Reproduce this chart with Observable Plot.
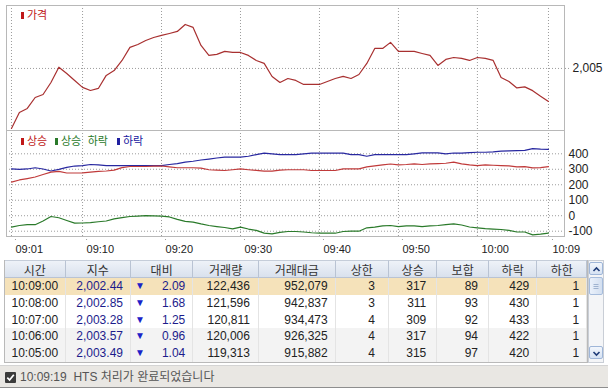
<!DOCTYPE html>
<html><head><meta charset="utf-8">
<script src="https://cdn.jsdelivr.net/npm/d3@7"></script>
<script src="https://cdn.jsdelivr.net/npm/@observablehq/plot@0.6"></script>
<style>
html,body{margin:0;padding:0}
body{width:608px;height:390px;overflow:hidden;background:#fff;position:relative;font-family:"Liberation Sans",Arial,sans-serif}
#chartTop,#chartBottom{position:absolute;left:0}
#chartTop{top:0}
#chartBottom{top:130px}
.lg{position:absolute;font-family:"Noto Sans CJK KR",sans-serif;font-size:11px;line-height:12px;white-space:nowrap}
.lg i{display:inline-block;width:3px;height:7px;margin-right:3px;vertical-align:0px}
.cell{position:absolute;box-sizing:border-box;white-space:nowrap;overflow:hidden;font-size:12px}
.hd{font-family:"Noto Sans CJK KR",sans-serif;text-align:center;color:#333;background:linear-gradient(#eef2f8,#d9e1ed);border-right:1px solid #b9c3d3;border-bottom:1px solid #b9c3d3;border-top:1px solid #c5cdd9}
#status{position:absolute;left:0;top:365px;width:608px;height:23px;background:#e9e7e3;border-top:1px solid #d4d4d4;border-bottom:1px solid #8e8e8e;box-sizing:border-box;font-size:12px;color:#555}
</style></head><body>
<div id="chartTop"></div>
<div id="chartBottom"></div>
<div class="lg" style="left:21px;top:8px;color:#c01818"><i style="background:#c01818"></i>가격</div>
<div class="lg" style="left:21px;top:134px;color:#c01818"><i style="background:#c01818"></i>상승</div>
<div class="lg" style="left:55px;top:134px;color:#2a7a2a;word-spacing:4px"><i style="background:#2a7a2a"></i>상승 하락</div>
<div class="lg" style="left:117px;top:134px;color:#2020a0"><i style="background:#2020a0"></i>하락</div>
<div id="status"></div>
<script>
// ---- chart data (per minute) ----
const times = ["09:01","09:02","09:03","09:04","09:05","09:06","09:07","09:08","09:09","09:10",
"09:11","09:12","09:13","09:14","09:15","09:16","09:17","09:18","09:19","09:20",
"09:21","09:22","09:23","09:24","09:25","09:26","09:27","09:28","09:29","09:30",
"09:31","09:32","09:33","09:34","09:35","09:36","09:37","09:38","09:39","09:40",
"09:41","09:42","09:43","09:44","09:45","09:46","09:47","09:48","09:49","09:50",
"09:51","09:52","09:53","09:54","09:55","09:56","09:57","09:58","09:59","10:00",
"10:01","10:02","10:03","10:04","10:05","10:06","10:07","10:08","10:09"];
const price = [2000.35,2001.59,2001.90,2002.75,2002.98,2003.91,2005.10,2004.61,2004.07,2003.53,
2003.29,2003.45,2004.46,2004.84,2005.62,2006.63,2006.86,2007.17,2007.40,2007.56,
2007.71,2007.87,2008.41,2008.18,2006.78,2006.01,2006.09,2006.32,2006.24,2006.24,
2006.01,2005.62,2005.39,2004.38,2003.91,2004.22,2004.07,2003.76,2003.76,2003.76,
2003.99,2004.22,2004.38,2004.22,2004.53,2005.39,2006.55,2006.55,2007.02,2006.32,
2006.32,2006.32,2006.16,2006.01,2005.23,2005.70,2005.85,2005.78,2005.62,2005.85,
2005.78,2005.62,2004.30,2003.99,2003.49,2003.57,2003.28,2002.85,2002.44];
const advancers = [217,231,240,250,266,282,286,276,276,277,
282,286,289,295,311,318,318,318,321,321,
315,310,310,310,308,297,295,292,297,302,
297,293,288,288,295,297,297,297,292,292,
292,292,303,303,303,315,322,328,334,329,
331,335,331,335,337,339,346,335,328,324,
328,326,324,322,315,317,309,311,317];
const decliners = [303,299,302,310,302,289,299,312,321,324,
331,328,324,324,324,324,324,324,324,324,
331,337,346,352,360,366,373,378,378,378,
384,395,404,399,395,395,395,400,404,404,
404,404,404,395,395,384,395,395,395,395,
395,400,406,406,406,400,405,404,407,410,
410,412,417,419,420,422,433,430,429];
const netBreadth = [-74,-63,-58,-58,-34,-5,-13,-31,-48,-47,
-44,-39,-34,-20,-12,-5,-2,1,-1,-3,
-8,-24,-37,-41,-53,-63,-70,-76,-85,-74,
-86,-95,-112,-117,-108,-102,-102,-105,-110,-113,
-113,-113,-102,-100,-100,-78,-74,-66,-63,-70,
-65,-65,-70,-66,-63,-57,-53,-60,-73,-78,
-83,-86,-89,-95,-105,-105,-124,-119,-112];
const timeTicks = ["09:01","09:10","09:20","09:30","09:40","09:50","10:00","10:09"];
const priceTicks = [2005];
const breadthTicks = [400,300,200,100,0,-100];

// ---- table data ----
const tblHeaders = ["시간","지수","대비","거래량","거래대금","상한","상승","보합","하락","하한"];
const tblTime = ["10:09:00","10:08:00","10:07:00","10:06:00","10:05:00"];
const tblIndex = [2002.44,2002.85,2003.28,2003.57,2003.49];
const tblChange = [2.09,1.68,1.25,0.96,1.04];
const tblVolume = [122436,121596,120811,120006,119313];
const tblAmount = [952079,942837,934473,926325,915882];
const tblUpLimit = [3,3,4,4,4];
const tblUp = [317,311,309,317,315];
const tblFlat = [89,93,92,94,97];
const tblDown = [429,430,433,422,420];
const tblDownLimit = [1,1,1,1,1];
const statusText = "10:09:19  HTS 처리가 완료되었습니다";

(function () {
const toMin = t => { const [h, m] = t.split(":").map(Number); return (h - 9) * 60 + m; };
const rows = times.map((t, i) => ({m: toMin(t), price: price[i], up: advancers[i], down: decliners[i], net: netBreadth[i]}));
const tickPos = timeTicks.map(toMin);
const tickFmt = d => timeTicks[tickPos.indexOf(d)];
const xDomain = [0.37, 71.03];
const dotted = {stroke: "#9c9c9c", strokeDasharray: "1,2"};
const frameColor = "#b8b8b8";
const font = "'Liberation Sans', Arial, sans-serif";

const priceChart = Plot.plot({
  width: 608, height: 131,
  marginLeft: 6, marginRight: 44, marginTop: 5, marginBottom: 1,
  x: {domain: xDomain, axis: null},
  y: {domain: [2000.19, 2009.88], axis: null},
  style: {background: "none", fontFamily: font, fontSize: "12px", color: "#222", overflow: "visible"},
  marks: [
    Plot.ruleX(tickPos, {x: d => d, ...dotted}),
    Plot.ruleY(priceTicks, {y: d => d, ...dotted}),
    Plot.axisY(priceTicks, {anchor: "right", label: null, tickSize: 4, tickPadding: 4, tickFormat: d3.format(","), stroke: "#9c9c9c", strokeDasharray: "1,2", fill: "#222", fontSize: 12}),
    Plot.line(rows, {x: "m", y: "price", stroke: "#a83030", strokeWidth: 1.2}),
    Plot.frame({stroke: frameColor})
  ]
});
document.getElementById("chartTop").append(priceChart);

const breadthChart = Plot.plot({
  width: 608, height: 130,
  marginLeft: 6, marginRight: 44, marginTop: 0, marginBottom: 24,
  x: {domain: xDomain, axis: null},
  y: {domain: [-134.2, 550.5], axis: null},
  style: {background: "none", fontFamily: font, fontSize: "12px", color: "#222", overflow: "visible"},
  marks: [
    Plot.ruleX(tickPos, {x: d => d, ...dotted}),
    Plot.ruleY(breadthTicks, {y: d => d, ...dotted}),
    Plot.axisY(breadthTicks, {anchor: "right", label: null, tickSize: 0, tickPadding: 4, tickFormat: d => String(d), fill: "#222", fontSize: 12}),
    Plot.axisX(tickPos, {anchor: "bottom", label: null, tickSize: 5, tickPadding: 3.5, textAnchor: "start", dx: 4, tickFormat: tickFmt, stroke: "#9c9c9c", strokeDasharray: "1,2", fill: "#222", fontSize: 11}),
    Plot.line(rows, {x: "m", y: "net", stroke: "#2a7a2a", strokeWidth: 1.2}),
    Plot.line(rows, {x: "m", y: "down", stroke: "#2828a0", strokeWidth: 1.2}),
    Plot.line(rows, {x: "m", y: "up", stroke: "#c03a3a", strokeWidth: 1.2}),
    Plot.frame({stroke: frameColor})
  ]
});
document.getElementById("chartBottom").append(breadthChart);

// ---- table ----
const colX = [5, 65.7, 131, 193.3, 259, 335.7, 389, 437.3, 489, 537.3, 587.3];
const padR = [0, 7, 7, 8, 7, 13, 10, 10, 7, 7];
const headerTop = 260, headerH = 18, rowH = 16.8;
const rowBg = ["#f5e2ba", "#ffffff", "#ffffff", "#f3f3f3", "#f3f3f3"];
function cell(cls, x, y, w, h, html, style) {
  const d = document.createElement("div");
  d.className = "cell " + cls;
  d.style.cssText = `left:${x}px;top:${y}px;width:${w}px;height:${h}px;line-height:${h}px;` + (style || "");
  d.innerHTML = html;
  document.body.append(d);
  return d;
}
cell("", 4, headerTop, 584.3, headerH + rowH * 5 + 1, "", "border:1px solid #b9b9b9;");
tblHeaders.forEach((h, j) => cell("hd", colX[j], headerTop, colX[j + 1] - colX[j], headerH, h));
const f2 = d3.format(",.2f"), f0 = d3.format(",");
for (let i = 0; i < tblTime.length; i++) {
  const y = headerTop + headerH + i * rowH;
  cell("", colX[0], y, colX[10] - colX[0], rowH, "", `background:${rowBg[i]};`);
  const vals = [tblTime[i], f2(tblIndex[i]), tblChange[i].toFixed(2), f0(tblVolume[i]), f0(tblAmount[i]),
    tblUpLimit[i], tblUp[i], tblFlat[i], tblDown[i], tblDownLimit[i]];
  vals.forEach((v, j) => {
    const w = colX[j + 1] - colX[j];
    let st = `color:#222;border-right:1px solid #e4e4e4;`;
    if (j === 0) st += "text-align:center;";
    else st += `text-align:right;padding-right:${padR[j]}px;`;
    if (j === 1 || j === 2) st += "color:#1c1c8c;";
    const d = cell("", colX[j], y, w, rowH, String(v), st);
    if (j === 2) {
      const a = document.createElement("span");
      a.textContent = "▼";
      a.style.cssText = "position:absolute;left:4px;top:0;font-size:10px;color:#1a22c8;";
      d.append(a);
    }
  });
}
cell("", 588, headerTop, 15.5, headerH + rowH * 5 + 1, "", "background:#f4f5f7;border:1px solid #c9ced6;");
cell("", 589, 262, 13.5, 13, "<svg width='13' height='13'><path d='M3.5 8 L6.5 5 L9.5 8' fill='none' stroke='#1f3c78' stroke-width='1.6'/></svg>", "background:linear-gradient(#f2f6fc,#d6e2f3);border:1px solid #9fb6d8;border-radius:2px;line-height:0;");
cell("", 589, 277, 13.5, 18, "<svg width='12' height='16'><path d='M3.5 6.5h5M3.5 8.5h5M3.5 10.5h5' stroke='#9fb3d0' stroke-width='1'/></svg>", "background:linear-gradient(90deg,#eaf1fb,#d3dff0);border:1px solid #a6bcdc;border-radius:2px;line-height:0;");
cell("", 589, 346, 13.5, 13, "<svg width='13' height='13'><path d='M3.5 5 L6.5 8 L9.5 5' fill='none' stroke='#1f3c78' stroke-width='1.6'/></svg>", "background:linear-gradient(#f2f6fc,#d6e2f3);border:1px solid #9fb6d8;border-radius:2px;line-height:0;");
const st = document.getElementById("status");
st.innerHTML = `<span style="position:absolute;left:5px;top:6px;width:11px;height:11px;background:#3b3b3b;border-radius:1px;"><svg width="11" height="11" style="display:block"><path d="M2.3 5.6 L4.6 8 L8.8 2.8" fill="none" stroke="#fff" stroke-width="1.7"/></svg></span><span style="position:absolute;left:20px;top:3px;line-height:16px;white-space:pre;font-family:'Liberation Sans','Noto Sans CJK KR',sans-serif;">${statusText}</span>`;
})();
</script>
</body></html>
